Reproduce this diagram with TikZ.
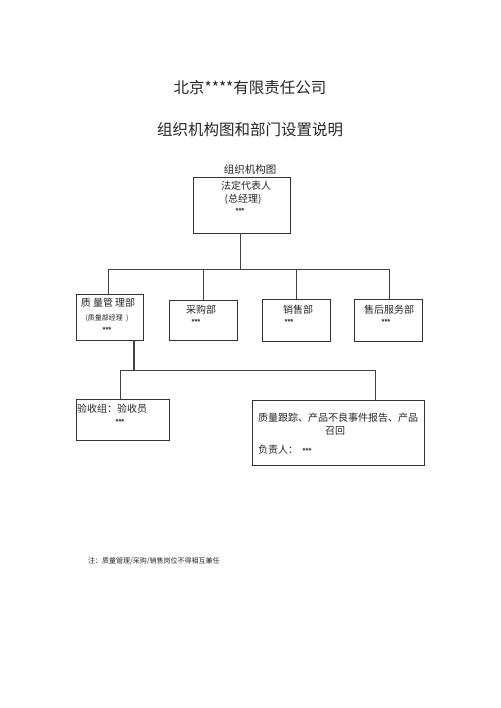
\documentclass[tikz,border=0pt]{standalone}
\usepackage{fontspec}
\newfontfamily\cjk{Noto Sans CJK SC}
\newfontfamily\astf{Liberation Sans}
\begin{document}
\begin{tikzpicture}[x=1pt,y=-1pt,
  every node/.style={font=\cjk, text=black!85, inner sep=0pt},
  box/.style={draw=black!80, line width=0.8pt, inner sep=0pt},
  conn/.style={draw=black!75, line width=0.8pt},
  tt/.style={font=\cjk\fontsize{10}{12}\selectfont},
  qs/.style={font=\cjk\fontsize{7}{8}\selectfont},
  st/.style={font=\astf\bfseries\fontsize{7.5}{8}\selectfont},
  ttl/.style={font=\cjk\fontsize{15.5}{18}\selectfont}]
\useasboundingbox[fill=white] (0,0) rectangle (500,708);
% titles
\node[ttl] (t1) at (250,88) {北京****有限责任公司};
\node[ttl] (t2) at (250,130) {组织机构图和部门设置说明};
\node[font=\cjk\fontsize{10.5}{12}\selectfont] (t3) at (250,170) {组织机构图};
% boxes
\node[box, minimum width=97pt, minimum height=56pt] (top) at (241.5,205) {};
\node[box, minimum width=67pt, minimum height=46pt] (qa) at (109.5,317) {};
\node[box, minimum width=68pt, minimum height=40pt] (pur) at (203,320) {};
\node[box, minimum width=68pt, minimum height=42pt] (sal) at (296,320) {};
\node[box, minimum width=68pt, minimum height=42pt] (aft) at (388,320) {};
\node[box, minimum width=93pt, minimum height=41pt] (ins) at (122.5,419.5) {};
\node[box, minimum width=172pt, minimum height=65pt] (trk) at (338,432.5) {};
% box texts
\node[tt] (topA) at (246,186) {法定代表人};
\node[tt] (topB) at (243,199) {(总经理)};
\node[st] (topC) at (240,211) {***};
\node[tt] (qaA) at (108,303) {质 量管 理部};
\node[qs] (qaB) at (107,318) {(质量部经理\ \ )};
\node[st] (qaC) at (107,330) {***};
\node[tt] (purA) at (201,310) {采购部};
\node[st] (purB) at (196,322) {***};
\node[tt] (salA) at (298,310) {销售部};
\node[st] (salB) at (289,322) {***};
\node[tt] (aftA) at (389,310) {售后服务部};
\node[st] (aftB) at (386,322) {***};
\node[tt] (insA) at (112,409) {验收组：验收员};
\node[st] (insB) at (120,422) {***};
\node[tt] (trkA) at (338,418) {质量跟踪、产品不良事件报告、产品};
\node[tt] (trkB) at (335,431) {召回};
\node[tt, anchor=west] (trkC) at (258,450) {负责人：\ \ {\astf\bfseries\fontsize{7.5}{8}\selectfont ***}};
% footnote
\node[font=\cjk\fontsize{7}{8}\selectfont, anchor=west] (fn) at (88,561) {注：质量管理/采购/销售岗位不得相互兼任};
% connectors
\coordinate (b1L) at (108,269);
\coordinate (b1R) at (389,269);
\coordinate (b2L) at (120,370);
\coordinate (b2R) at (375,370);
\draw[conn] ([xshift=-1.5pt]top.south) -- ([xshift=-1.5pt]top.south |- b1L);
\draw[conn] (b1L) -- (b1R);
\draw[conn] (b1L) -- (b1L |- qa.north);
\draw[conn] (pur.north) -- (pur.north |- b1L);
\draw[conn] (sal.north) -- (sal.north |- b1L);
\draw[conn] (b1R) -- (b1R |- aft.north);
\draw[conn, line width=1.3pt] ([xshift=24.5pt]qa.south) -- ([xshift=24.5pt]qa.south |- b2L);
\draw[conn] (b2L) -- (b2R);
\draw[conn] (b2L) -- (b2L |- ins.north);
\draw[conn] (b2R) -- (b2R |- trk.north);
\end{tikzpicture}
\end{document}
